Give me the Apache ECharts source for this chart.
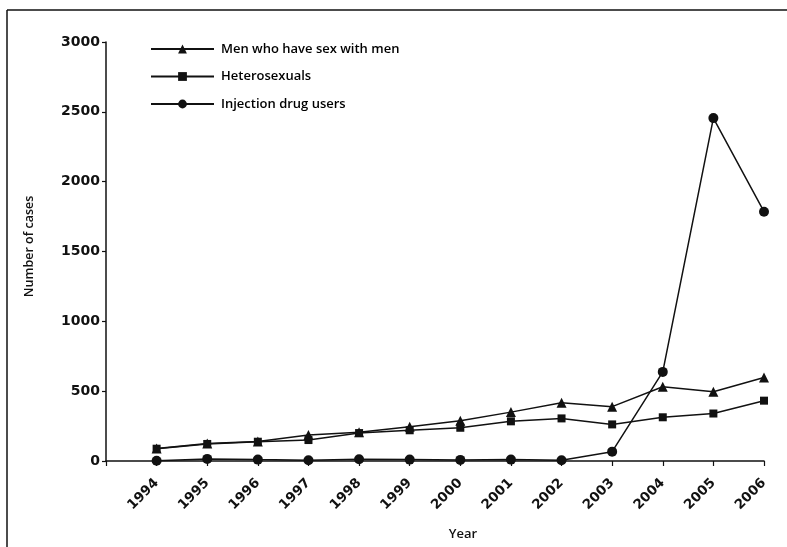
<!DOCTYPE html>
<html>
<head>
<meta charset="utf-8">
<script src="https://cdn.jsdelivr.net/npm/echarts@6/dist/echarts.min.js"></script>
<style>
html,body{margin:0;padding:0;background:#fff;}
#chart{width:787px;height:547px;}
</style>
</head>
<body>
<div id="chart"></div>
<script>
// Reported cases by transmission group, 1994-2006
var years = [1994, 1995, 1996, 1997, 1998, 1999, 2000, 2001, 2002, 2003, 2004, 2005, 2006];
var msm = [90, 125, 140, 186, 205, 245, 288, 350, 417, 389, 532, 496, 598];
var hetero = [88, 122, 138, 150, 200, 220, 238, 284, 305, 262, 313, 340, 432];
var idu = [2, 15, 10, 6, 12, 10, 8, 10, 5, 67, 638, 2455, 1785];
var seriesNames = ['Men who have sex with men', 'Heterosexuals', 'Injection drug users'];
var yTicks = [0, 500, 1000, 1500, 2000, 2500, 3000];

var TEXT_FONT = "'Open Sans', Lato, sans-serif";
var NUM_FONT = "'DejaVu Sans', sans-serif";
var INK = '#111';

function pairs(vals) {
  return years.map(function (y, i) { return [y, vals[i]]; });
}

function lineSeries(name, vals, symbol, size) {
  return {
    name: name,
    type: 'line',
    data: pairs(vals),
    symbol: symbol,
    symbolSize: size,
    showSymbol: true,
    lineStyle: { color: INK, width: 1.5 },
    itemStyle: { color: INK },
    emphasis: { disabled: true },
    animation: false
  };
}

var chart = echarts.init(document.getElementById('chart'), null, { renderer: 'canvas' });
chart.setOption({
  backgroundColor: '#fff',
  animation: false,
  textStyle: { fontFamily: TEXT_FONT, color: INK },
  grid: { left: 106, right: 23, top: 42, bottom: 86 },
  legend: {
    orient: 'vertical',
    left: 145,
    top: 36,
    itemWidth: 63,
    itemHeight: 11,
    itemGap: 11.5,
    data: seriesNames,
    textStyle: {
      fontFamily: TEXT_FONT, fontSize: 13, fontWeight: 600, color: '#000',
      lineHeight: 16, padding: [0, 0, 0, 2]
    }
  },
  xAxis: {
    type: 'value',
    min: 1993,
    max: 2006,
    interval: 1,
    name: 'Year',
    nameLocation: 'middle',
    nameGap: 67,
    nameTextStyle: { fontFamily: TEXT_FONT, fontSize: 13, fontWeight: 600, color: INK, padding: [0, 0, 0, 56] },
    axisLine: { lineStyle: { color: INK, width: 1.5 } },
    axisTick: { show: true, length: 5, lineStyle: { color: INK, width: 1.2 } },
    axisLabel: {
      rotate: 45,
      margin: 20,
      fontSize: 13.5,
      fontWeight: 'bold',
      color: INK,
      fontFamily: NUM_FONT,
      formatter: function (v) { return years.indexOf(v) >= 0 ? String(v) : ''; }
    },
    splitLine: { show: false }
  },
  yAxis: {
    type: 'value',
    min: yTicks[0],
    max: yTicks[yTicks.length - 1],
    interval: 500,
    name: 'Number of cases',
    nameLocation: 'middle',
    nameGap: 70,
    nameRotate: 90,
    nameTextStyle: { fontFamily: TEXT_FONT, fontSize: 12.5, fontWeight: 600, color: INK, padding: [0, 0, 0, 10] },
    axisLine: { show: true, lineStyle: { color: INK, width: 1.5 } },
    axisTick: { show: true, length: 4, lineStyle: { color: INK, width: 1.2 } },
    axisLabel: {
      fontSize: 14, fontWeight: 'bold', color: INK, fontFamily: NUM_FONT, margin: 6,
      formatter: function (v) { return String(v); }
    },
    splitLine: { show: false }
  },
  series: [
    lineSeries(seriesNames[0], msm, 'triangle', 10),
    lineSeries(seriesNames[1], hetero, 'rect', 8),
    lineSeries(seriesNames[2], idu, 'circle', 10)
  ],
  graphic: [
    { type: 'line', shape: { x1: 7, y1: 10, x2: 787, y2: 10 }, style: { stroke: INK, lineWidth: 1.5 }, silent: true },
    { type: 'line', shape: { x1: 7, y1: 10, x2: 7, y2: 547 }, style: { stroke: INK, lineWidth: 1.5 }, silent: true }
  ]
});
</script>
</body>
</html>
